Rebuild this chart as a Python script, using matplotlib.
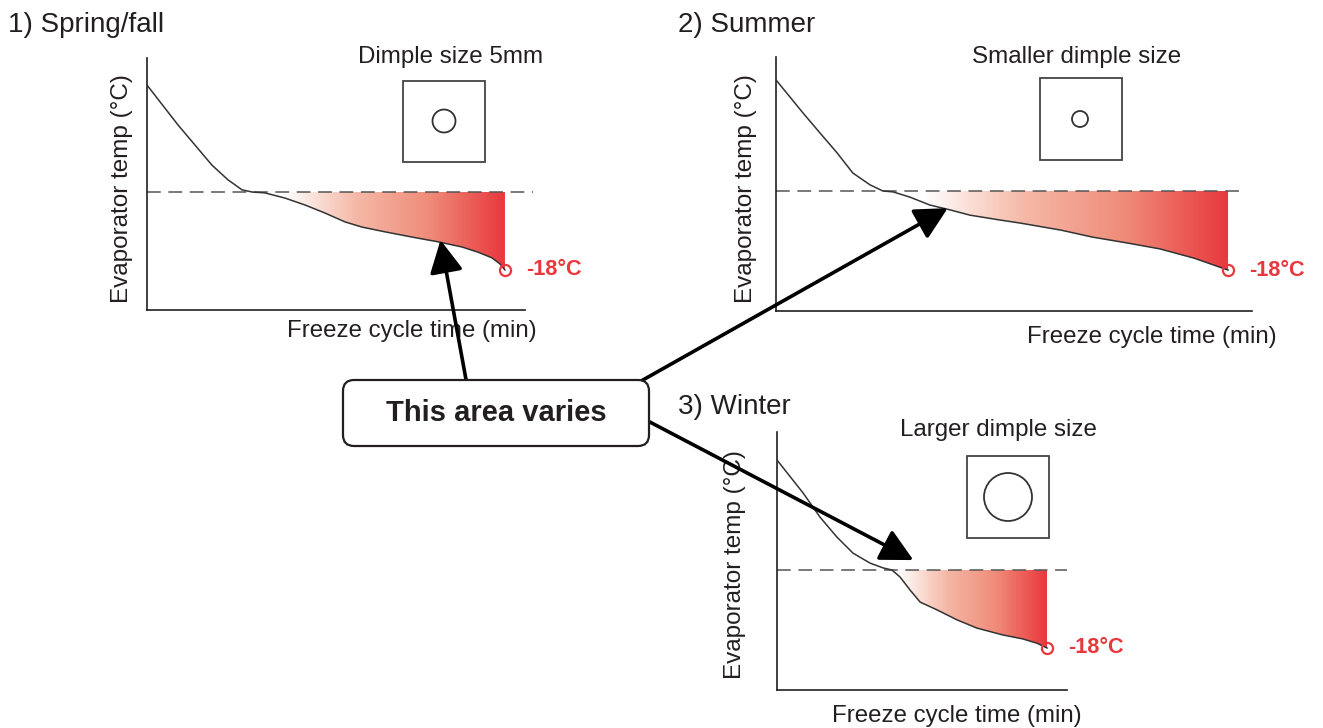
import numpy as np
import matplotlib
matplotlib.use("Agg")
import matplotlib.pyplot as plt
from matplotlib.colors import LinearSegmentedColormap
from matplotlib.patches import FancyBboxPatch, Rectangle, Circle

plt.rcParams['font.family'] = ['Liberation Sans', 'DejaVu Sans']

# freeze cycle curves: time (min) vs evaporator temp (°C), dashed line = 0°C
t_spring = [0, 1.73, 3.63, 4.53, 5.31, 5.87, 6.59, 7.71, 8.83, 9.94, 11.06, 12.01, 13.3, 14.8,
            16.26, 17.6, 18.5, 19.27, 19.72, 20]
T_spring = [24.7, 15.5, 6.2, 2.8, 0.5, 0, -0.2, -1.4, -3.0, -4.85, -6.9, -8.1, -9.2, -10.4,
            -11.5, -12.7, -13.9, -15.2, -16.6, -18]

t_summer = [0, 1.19, 1.95, 2.7, 3.4, 4.16, 4.73, 5.18, 5.93, 6.81, 7.7, 8.58, 9.9, 10.8, 12.6,
            14.0, 15.5, 17.0, 18.5, 20]
T_summer = [25.3, 17.8, 13.2, 8.7, 4.1, 1.4, 0, -0.2, -1.4, -3.2, -4.3, -5.5, -6.6, -7.3, -8.9,
            -10.5, -11.8, -13.2, -15.3, -18]

t_winter = [0, 1.93, 3.19, 4.44, 5.63, 6.89, 7.85, 8.52, 9.11, 9.85, 10.6, 11.85, 13.33, 14.8,
            16.74, 18.2, 19.26, 20]
T_winter = [25.4, 17.8, 12.2, 7.6, 3.9, 1.6, 0.5, 0, -1.6, -4.6, -7.4, -9.2, -11.5, -13.4,
            -15.0, -15.9, -16.9, -18]

titles = ["1) Spring/fall", "2) Summer", "3) Winter"]
dimple_labels = ["Dimple size 5mm", "Smaller dimple size", "Larger dimple size"]
end_label = "-18°C"
callout = "This area varies"

W, H = 1323, 728
INK = '#231f20'
RED = '#e8383d'
frost = LinearSegmentedColormap.from_list('frost', ['#ffffff', '#f5b8a6', '#f08a78', RED])

fig = plt.figure(figsize=(W / 100, H / 100), dpi=100)


def frac(l, t, r, b):
    return [l / W, 1 - b / H, (r - l) / W, (b - t) / H]


# panel layout in pixels: axes box, limits, dashed end, gradient start
panels = [
    dict(box=(147, 58, 525, 310), xlim=(0, 21.12), ylim=(-27.25, 30.95), dash_end=21.56, g0=7.6,
         t=t_spring, T=T_spring, knee=5.87),
    dict(box=(776, 57, 1252, 311), xlim=(0, 21.06), ylim=(-27.33, 30.52), dash_end=20.58, g0=6.5,
         t=t_summer, T=T_summer, knee=4.73),
    dict(box=(777, 432, 1067, 690), xlim=(0, 21.48), ylim=(-27.7, 31.87), dash_end=21.48, g0=8.9,
         t=t_winter, T=T_winter, knee=8.52),
]

axes = []
for p in panels:
    ax = fig.add_axes(frac(*p['box']))
    t = np.array(p['t'])
    T = np.array(p['T'])
    m = t >= p['knee']
    poly = ax.fill_between(t[m], T[m], 0, facecolor='none', edgecolor='none')
    grad = np.linspace(0, 1, 256).reshape(1, -1)
    im = ax.imshow(grad, cmap=frost, extent=[p['g0'], t[-1], p['ylim'][0], 0],
                   aspect='auto', zorder=1)
    im.set_clip_path(poly.get_paths()[0], transform=ax.transData)
    ax.plot([0, p['dash_end']], [0, 0], color='#555555', lw=1.1, dashes=(9, 5), zorder=2, clip_on=False)
    ax.plot(t, T, color='#333333', lw=1.1, zorder=3, solid_joinstyle='round')
    ax.plot(t[-1], T[-1], 'o', ms=8, mfc='none', mec=RED, mew=1.6, zorder=4, clip_on=False)
    ax.annotate(end_label, (t[-1], T[-1]), xytext=(15, 0), textcoords='offset points',
                color=RED, fontsize=15.6, fontweight='bold', va='center', ha='left')
    ax.set_xlim(*p['xlim'])
    ax.set_ylim(*p['ylim'])
    for s in ['top', 'right']:
        ax.spines[s].set_visible(False)
    for s in ['left', 'bottom']:
        ax.spines[s].set_color(INK)
        ax.spines[s].set_linewidth(1.2)
    ax.set_xticks([])
    ax.set_yticks([])
    ax.patch.set_alpha(0)
    axes.append(ax)

# overlay in pixel coords for labels, icons and callout
ov = fig.add_axes([0, 0, 1, 1])
ov.set_xlim(0, W)
ov.set_ylim(H, 0)
ov.axis('off')

for (x, y), s in zip([(8, 25), (678, 25), (678, 407)], titles):
    ov.text(x, y, s, fontsize=20, color=INK, ha='left', va='center')

for (x, y), s in zip([(451, 57), (1077, 57), (998, 430)], dimple_labels):
    ov.text(x, y, s, fontsize=17.4, color=INK, ha='center', va='center')

for (x, y) in [(412, 331), (1152, 337), (957, 716)]:
    ov.text(x, y, "Freeze cycle time (min)", fontsize=17.3, color=INK, ha='center', va='center')

for (x, y) in [(122, 189), (746, 189), (735, 565)]:
    ov.text(x, y, "Evaporator temp (°C)", fontsize=17.5, color=INK, ha='center', va='center',
            rotation=90)

# dimple icons
for (l, tp, r, b), (cx, cy, rad) in zip([(403, 81, 485, 162), (1040, 78, 1122, 160), (967, 456, 1049, 538)],
                                        [(444, 121, 11.5), (1080, 119, 8), (1008, 497, 24)]):
    ov.add_patch(Rectangle((l, tp), r - l, b - tp, fill=False, ec='#444444', lw=1.3))
    ov.add_patch(Circle((cx, cy), rad, fill=False, ec='#333333', lw=1.3))

# arrows from callout to the varying area
arrow_kw = dict(arrowstyle='-|>,head_length=0.66,head_width=0.34', mutation_scale=30,
                lw=2.6, color='black', shrinkA=0, shrinkB=0)
tips = [(axes[0], (16.4, -11.1)), (axes[1], (7.6, -3.9)), (axes[2], (10.1, 2.3))]
tails = [(467, 385), (634, 385), (646, 420)]
for (ax, xy), tail in zip(tips, tails):
    ov.annotate('', xy=xy, xycoords=ax.transData, xytext=tail, textcoords=ov.transData,
                arrowprops=arrow_kw, annotation_clip=False)

ov.add_patch(FancyBboxPatch((343, 380), 306, 66, boxstyle='round,pad=0,rounding_size=11',
                            fc='white', ec=INK, lw=1.6, zorder=5))
ov.text(496, 413, callout, fontsize=21, fontweight='bold', color=INK, ha='center', va='center',
        zorder=6)

fig.savefig('out.png', dpi=100)
